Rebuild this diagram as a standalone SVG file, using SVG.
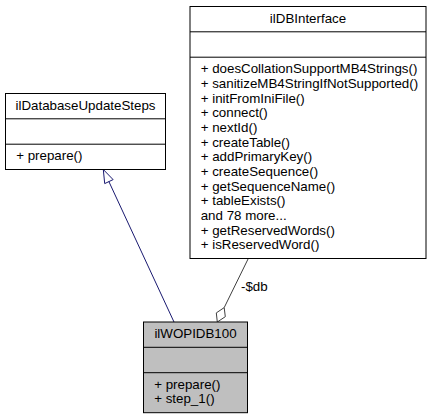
<svg xmlns="http://www.w3.org/2000/svg" width="431" height="419" viewBox="0 0 431 419">
<style>
text{font-family:"Liberation Sans",Arial,Helvetica,sans-serif;font-size:13.33px;fill:#000}
.c{text-anchor:middle}
.box{fill:#fff;stroke:#000;stroke-width:1}
.cur{fill:#bfbfbf;stroke:#000;stroke-width:1}
.sep{stroke:#000;stroke-width:1;fill:none}
.inh{stroke:#191970;stroke-width:1;fill:none}
.agg{stroke:#404040;stroke-width:1;fill:none}
</style>
<rect width="431" height="419" fill="#fff"/>
<g id="edges">
  <path class="inh" d="M174,322 L108.9,181.6"/>
  <polygon class="inh" fill="#fff" points="103.3,169.5 104.7,183.6 113.1,179.6"/>
  <path class="agg" d="M248.3,258.5 L224.2,307.6"/>
  <polygon class="agg" fill="#fff" points="217.3,322 216.3,312.9 224.2,307.6 225.3,316.7"/>
  <text x="241" y="291">-$db</text>
</g>
<g id="ilDatabaseUpdateSteps">
  <rect class="box" x="5.5" y="93.5" width="160" height="76"/>
  <path class="sep" d="M5.5,118.8 H165.5 M5.5,144.2 H165.5"/>
  <text class="c" x="85.5" y="109.5">ilDatabaseUpdateSteps</text>
  <text x="16.2" y="160.2">+ prepare()</text>
</g>
<g id="ilDBInterface">
  <rect class="box" x="190" y="6.5" width="236" height="252"/>
  <path class="sep" d="M190,31.8 H426 M190,57.2 H426"/>
  <text class="c" x="308" y="22.5">ilDBInterface</text>
  <text x="200.7" y="73.2">+ doesCollationSupportMB4Strings()</text>
  <text x="200.7" y="87.9">+ sanitizeMB4StringIfNotSupported()</text>
  <text x="200.7" y="102.5">+ initFromIniFile()</text>
  <text x="200.7" y="117.2">+ connect()</text>
  <text x="200.7" y="131.9">+ nextId()</text>
  <text x="200.7" y="146.5">+ createTable()</text>
  <text x="200.7" y="161.2">+ addPrimaryKey()</text>
  <text x="200.7" y="175.9">+ createSequence()</text>
  <text x="200.7" y="190.5">+ getSequenceName()</text>
  <text x="200.7" y="205.2">+ tableExists()</text>
  <text x="200.7" y="219.9">and 78 more...</text>
  <text x="200.7" y="234.5">+ getReservedWords()</text>
  <text x="200.7" y="249.2">+ isReservedWord()</text>
</g>
<g id="ilWOPIDB100">
  <rect class="cur" x="143.5" y="322" width="104" height="90.7"/>
  <path class="sep" d="M143.5,347.3 H247.5 M143.5,372.7 H247.5"/>
  <text class="c" x="195.5" y="338">ilWOPIDB100</text>
  <text x="154.2" y="388.7">+ prepare()</text>
  <text x="154.2" y="403.3">+ step_1()</text>
</g>
</svg>
